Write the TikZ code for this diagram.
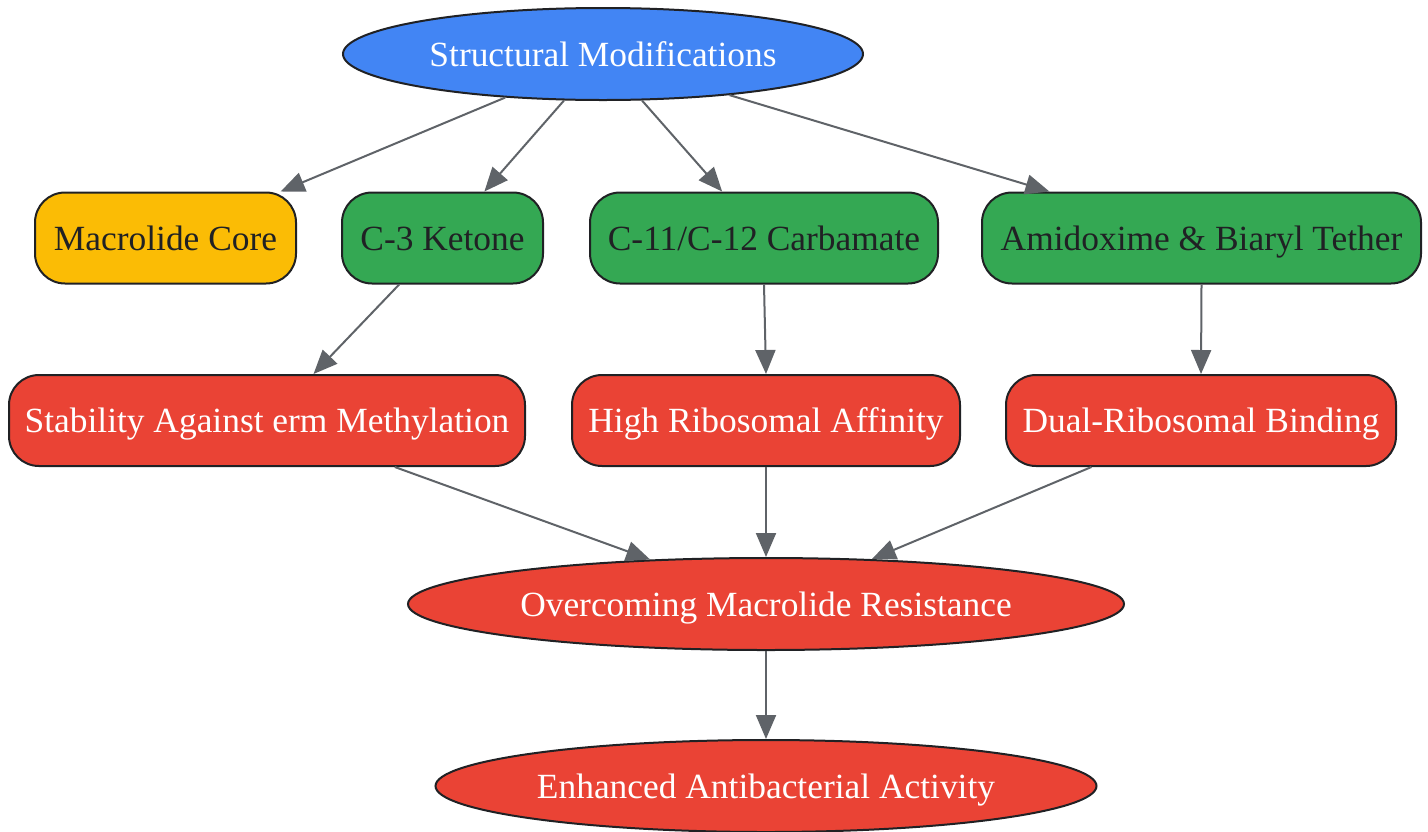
\documentclass[tikz,border=0pt]{standalone}
\usepackage{fontspec}
\setmainfont{Liberation Serif}
\usetikzlibrary{arrows.meta,shapes.geometric}
\definecolor{gblue}{HTML}{4285F4}
\definecolor{ggreen}{HTML}{34A853}
\definecolor{gred}{HTML}{EA4335}
\definecolor{gyellow}{HTML}{FBBC05}
\definecolor{gdark}{HTML}{202124}
\definecolor{edgegray}{HTML}{5F6368}
\begin{document}
\begin{tikzpicture}[x=0.5pt, y=-0.5pt,
    every node/.style={font=\fontsize{17.7}{21}\selectfont, text height=15pt, text depth=3pt},
    box/.style={draw=gdark, line width=1pt, rounded corners=15pt, minimum height=45.5pt, inner sep=0pt},
    oval/.style={draw=gdark, line width=1pt, ellipse, minimum height=46pt, inner sep=0pt},
    link/.style={draw=edgegray, line width=1pt, -{Triangle[length=12pt,width=10pt]}}]
    \useasboundingbox (0,0) rectangle (1428,831);

    % top
    \node[oval, fill=gblue, text=white, minimum width=260pt] (sm) at (603,54) {Structural Modifications};

    % modifications
    \node[box, fill=gyellow, text=gdark, minimum width=130.5pt] (core) at (165.5,238) {Macrolide Core};
    \node[box, fill=ggreen, text=gdark, minimum width=100.5pt] (c3) at (442.5,238) {C-3 Ketone};
    \node[box, fill=ggreen, text=gdark, minimum width=174pt] (carb) at (764,238) {C-11/C-12 Carbamate};
    \node[box, fill=ggreen, text=gdark, minimum width=219.5pt] (amid) at (1201.5,238) {Amidoxime \& Biaryl Tether};

    % effects
    \node[box, fill=gred, text=white, minimum width=258pt] (stab) at (267,420.5) {Stability Against erm Methylation};
    \node[box, fill=gred, text=white, minimum width=194pt] (affin) at (766,420.5) {High Ribosomal Affinity};
    \node[box, fill=gred, text=white, minimum width=195pt] (dual) at (1201,420.5) {Dual-Ribosomal Binding};

    % outcome
    \node[oval, fill=gred, text=white, minimum width=358pt] (resist) at (766,604) {Overcoming Macrolide Resistance};
    \node[oval, fill=gred, text=white, minimum width=330.5pt] (act) at (766,786) {Enhanced Antibacterial Activity};

    \draw[link] (sm.204) -- (core.22);
    \draw[link] (sm.230) -- (c3.48);
    \draw[link] (sm.310) -- (carb.132);
    \draw[link] (sm.342.5) -- (amid.163);

    \draw[link] (c3.227) -- (stab.45);
    \draw[link] (carb.south) -- (affin.north);
    \draw[link] (amid.south) -- (dual.north);

    \draw[link] (stab.340) -- (resist.159.5);
    \draw[link] (affin.south) -- (resist.north);
    \draw[link] (dual.203) -- (resist.23);

    \draw[link] (resist.south) -- (act.north);
\end{tikzpicture}
\end{document}
